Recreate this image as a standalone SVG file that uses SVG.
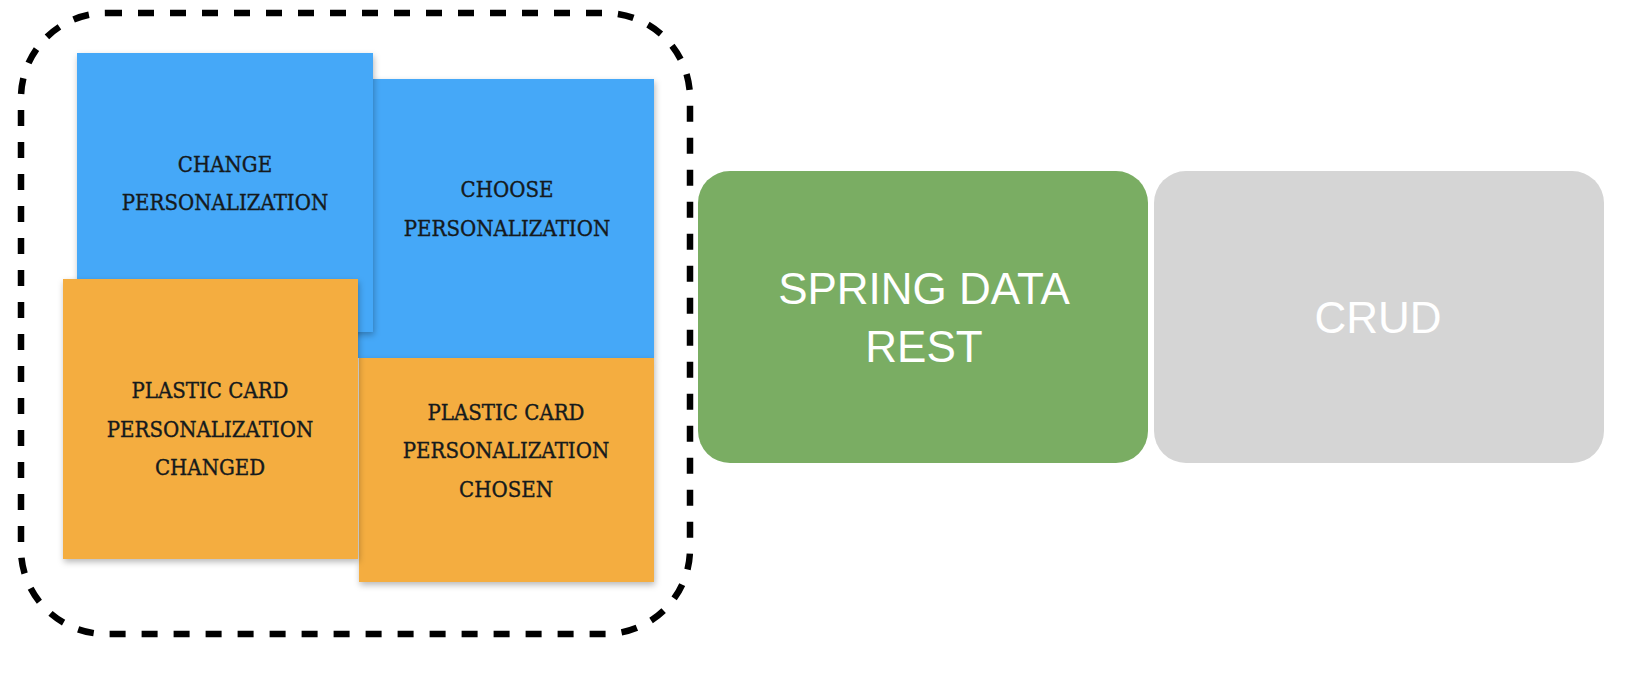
<svg xmlns="http://www.w3.org/2000/svg" width="1628" height="688" viewBox="0 0 1628 688">
<defs>
<filter id="sh" x="-10%" y="-10%" width="125%" height="125%">
<feDropShadow dx="1" dy="3" stdDeviation="3" flood-color="#000" flood-opacity="0.28"/>
</filter>
<style>
.blue{fill:#45a8f8;filter:url(#sh)}
.orange{fill:#f4ad3f;filter:url(#sh)}
.nt{font-family:"DejaVu Serif Condensed","DejaVu Serif",serif;font-size:22px;fill:#151a1d;stroke:#151a1d;stroke-width:0.35;text-anchor:middle}
.bt{font-family:"Liberation Sans",Arial,sans-serif;font-size:44px;fill:#ffffff;text-anchor:middle}
</style>
</defs>
<rect width="1628" height="688" fill="#ffffff"/>
<g id="boundary">
<rect x="21" y="13" width="669" height="621" rx="85" ry="85" fill="none" stroke="#000" stroke-width="6.5" stroke-dasharray="16 16"/>
</g>
<g id="note-choose">
<rect class="blue" x="358" y="79" width="296" height="279"/>
<text class="nt" x="507" y="197">CHOOSE</text>
<text class="nt" x="507" y="236">PERSONALIZATION</text>
</g>
<g id="note-change">
<rect class="blue" x="77" y="53" width="296" height="279"/>
<text class="nt" x="225" y="172">CHANGE</text>
<text class="nt" x="225" y="210">PERSONALIZATION</text>
</g>
<g id="event-chosen">
<rect class="orange" x="359" y="358" width="295" height="224"/>
<text class="nt" x="506" y="420">PLASTIC CARD</text>
<text class="nt" x="506" y="458">PERSONALIZATION</text>
<text class="nt" x="506" y="497">CHOSEN</text>
</g>
<g id="event-changed">
<rect class="orange" x="63" y="279" width="295" height="280"/>
<text class="nt" x="210" y="398">PLASTIC CARD</text>
<text class="nt" x="210" y="437">PERSONALIZATION</text>
<text class="nt" x="210" y="475">CHANGED</text>
</g>
<g id="spring-data-rest">
<rect x="698" y="171" width="450" height="292" rx="32" ry="32" fill="#7aad63"/>
<text class="bt" x="924" y="304">SPRING DATA</text>
<text class="bt" x="924" y="362">REST</text>
</g>
<g id="crud">
<rect x="1154" y="171" width="450" height="292" rx="32" ry="32" fill="#d5d5d5"/>
<text class="bt" x="1378" y="333">CRUD</text>
</g>
<g id="connectors"></g>
</svg>
